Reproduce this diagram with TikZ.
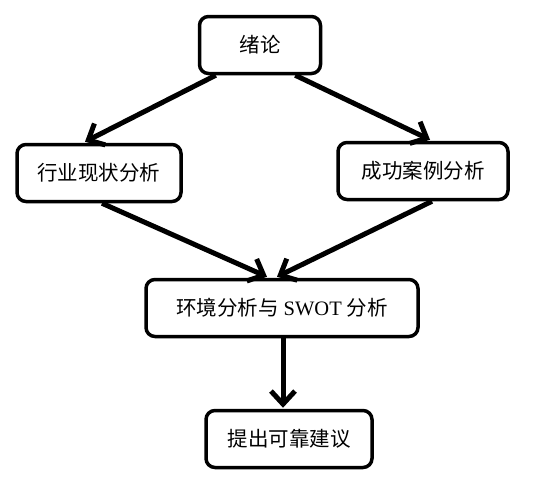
\documentclass[tikz,border=0pt]{standalone}
\usepackage{fontspec}
\setmainfont{Liberation Serif}
\newfontfamily\cjk{Noto Sans CJK SC}
\usetikzlibrary{arrows.meta}

\begin{document}
\begin{tikzpicture}[x=1pt, y=-1pt,
        etape/.style={draw, line width=3.5pt, rounded corners=9pt, fill=white,
                      minimum height=57pt, font=\fontsize{20.5}{24}\selectfont},
        fleche/.style={line width=5pt, -{Straight Barb[length=13pt, width=24pt]}}]
        % --- CADRE ---
        \useasboundingbox (0,0) rectangle (555,488);

        % --- ETAPES ---
        \node[etape, minimum width=121pt] (intro)  at (260,45)  {\cjk 绪论};
        \node[etape, minimum width=164pt] (etat)   at (99,173)  {\cjk 行业现状分析};
        \node[etape, minimum width=170pt] (cas)    at (423,171) {\cjk 成功案例分析};
        \node[etape, minimum width=272pt] (swot)   at (282,308) {{\cjk 环境分析与} SWOT {\cjk 分析}};
        \node[etape, minimum width=166pt] (avis)   at (289,439) {\cjk 提出可靠建议};

        % --- FLECHES ---
        \draw[fleche] ([xshift=18pt]intro.south west) -- ([xshift=-14pt, yshift=1pt]etat.north);
        \draw[fleche] ([xshift=-27pt]intro.south east) -- ([xshift=7pt, yshift=1pt]cas.north);
        \draw[fleche] ([xshift=3pt]etat.south) -- ([xshift=-15pt, yshift=1pt]swot.north);
        \draw[fleche] ([xshift=9pt]cas.south) -- ([xshift=-5pt, yshift=1pt]swot.north);
        \draw[fleche] ([xshift=1pt]swot.south) -- ([xshift=1pt, yshift=1pt]swot.south |- avis.north);

    \end{tikzpicture}
\end{document}
